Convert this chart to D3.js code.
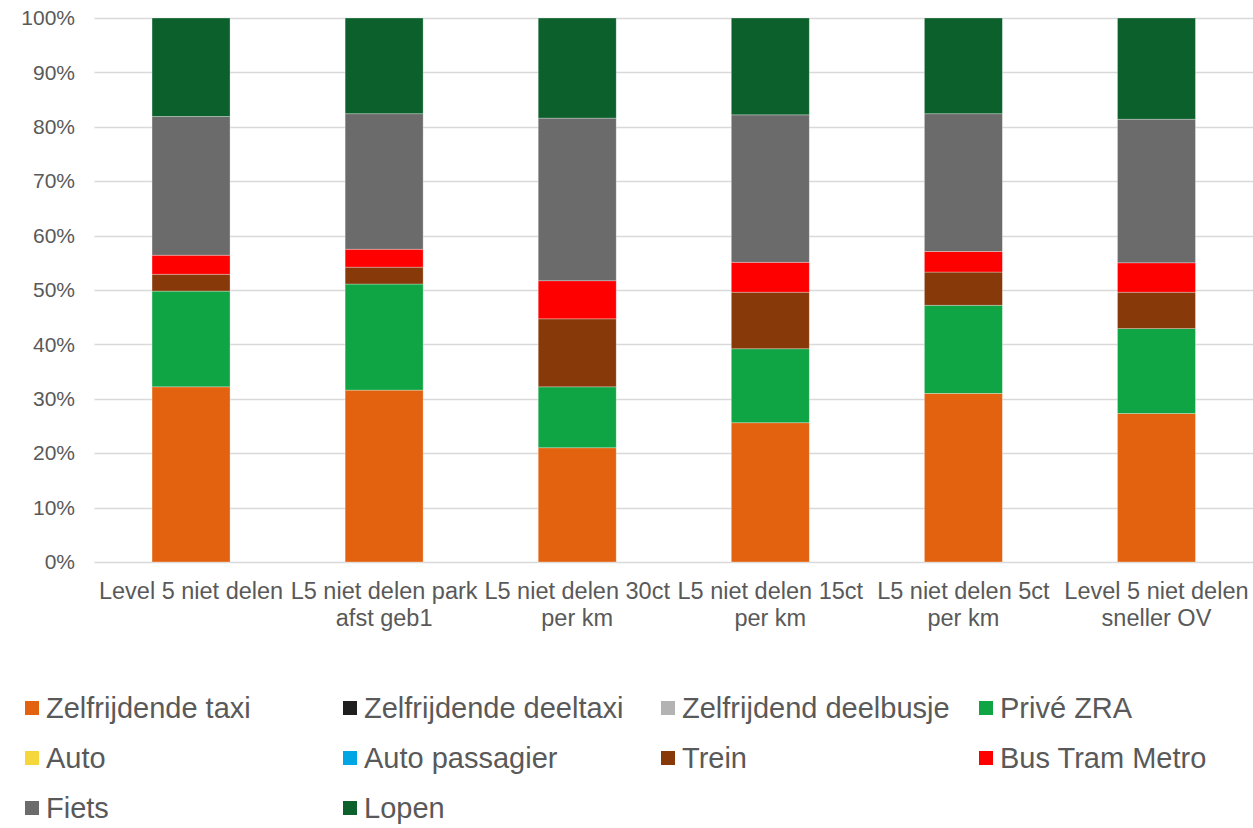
<!DOCTYPE html>
<html>
<head>
<meta charset="utf-8">
<script src="https://cdn.jsdelivr.net/npm/d3@7"></script>
<style>
  body { margin: 0; background: #fff; }
  svg text { font-family: "Liberation Sans", Arial, sans-serif; fill: #595959; }
</style>
</head>
<body>
<div id="chart"></div>
<script>
const categories = [
  ['Level 5 niet delen'],
  ['L5 niet delen park', 'afst geb1'],
  ['L5 niet delen 30ct', 'per km'],
  ['L5 niet delen 15ct', 'per km'],
  ['L5 niet delen 5ct', 'per km'],
  ['Level 5 niet delen', 'sneller OV']
];

const seriesNames = ['Zelfrijdende taxi', 'Zelfrijdende deeltaxi', 'Zelfrijdend deelbusje', 'Privé ZRA',
  'Auto', 'Auto passagier', 'Trein', 'Bus Tram Metro', 'Fiets', 'Lopen'];
const seriesColors = ['#e36210', '#1f1f1f', '#b3b3b3', '#10a544',
  '#f5d73c', '#00a6e3', '#87390a', '#ff0000', '#6b6b6b', '#0b602c'];

// shares in %, one value per category
const zelfrijdendeTaxi = [32.2, 31.6, 21.0, 25.6, 31.0, 27.3];
const zelfrijdendeDeeltaxi = [0, 0, 0, 0, 0, 0];
const zelfrijdendDeelbusje = [0, 0, 0, 0, 0, 0];
const priveZRA = [17.6, 19.5, 11.2, 13.6, 16.2, 15.6];
const auto = [0, 0, 0, 0, 0, 0];
const autoPassagier = [0, 0, 0, 0, 0, 0];
const trein = [3.1, 3.1, 12.5, 10.4, 6.1, 6.7];
const busTramMetro = [3.5, 3.3, 7.0, 5.5, 3.8, 5.4];
const fiets = [25.5, 24.9, 29.9, 27.1, 25.3, 26.4];
const lopen = [18.1, 17.6, 18.4, 17.8, 17.6, 18.6];

const yTicks = [0, 10, 20, 30, 40, 50, 60, 70, 80, 90, 100];

const values = [zelfrijdendeTaxi, zelfrijdendeDeeltaxi, zelfrijdendDeelbusje, priveZRA,
  auto, autoPassagier, trein, busTramMetro, fiets, lopen];

const width = 1253, height = 828;
const [mt, mr, ml] = [18, 0, 94.5];
const plotBottom = 562;

// normalise each column to 100%
const rows = categories.map((c, i) => {
  const row = { i };
  const total = d3.sum(values, v => v[i]);
  seriesNames.forEach((s, k) => row[s] = values[k][i] / total);
  return row;
});
const stacked = d3.stack().keys(seriesNames)(rows);

const x = d3.scaleBand()
  .domain(d3.range(categories.length))
  .range([ml, width - mr])
  .paddingInner(0.596)
  .paddingOuter(0.298);

const y = d3.scaleLinear([0, 1], [plotBottom, mt]);

const color = d3.scaleOrdinal(seriesNames, seriesColors);

const svg = d3.select('#chart')
  .append('svg')
  .attr('width', width)
  .attr('height', height);

// grid
svg.append('g')
  .selectAll('line')
  .data(yTicks)
  .join('line')
  .attr('x1', ml)
  .attr('x2', width - mr)
  .attr('y1', d => Math.round(y(d / 100)) + 0.5)
  .attr('y2', d => Math.round(y(d / 100)) + 0.5)
  .attr('stroke', '#d9d9d9')
  .attr('stroke-width', 1.5);

// y axis labels
const yAxis = d3.axisLeft(y)
  .tickValues(yTicks.map(d => d / 100))
  .tickFormat(d3.format('.0%'))
  .tickSize(0)
  .tickPadding(0);

svg.append('g')
  .attr('transform', `translate(75,0)`)
  .call(yAxis)
  .call(g => g.select('.domain').remove())
  .call(g => g.selectAll('text')
    .style('font-size', '21px')
    .attr('fill', '#595959'));

// bars
svg.append('g')
  .selectAll('g')
  .data(stacked)
  .join('g')
  .attr('fill', d => color(d.key))
  .selectAll('rect')
  .data(d => d)
  .join('rect')
  .attr('x', d => x(d.data.i))
  .attr('width', x.bandwidth())
  .attr('y', d => y(d[1]))
  .attr('height', d => y(d[0]) - y(d[1]))
  .attr('stroke', '#fff')
  .attr('stroke-opacity', 0.4)
  .attr('stroke-width', 0.75);

// x labels
const xl = svg.append('g')
  .selectAll('text')
  .data(categories)
  .join('text')
  .attr('text-anchor', 'middle')
  .style('font-size', '23.5px')
  .attr('x', (d, i) => x(i) + x.bandwidth() / 2)
  .attr('y', 599);

xl.selectAll('tspan')
  .data(d => d)
  .join('tspan')
  .attr('x', function () { return this.parentNode.getAttribute('x'); })
  .attr('dy', (d, j) => j === 0 ? 0 : 26.5)
  .text(d => d);

// legend
const legendCols = [25, 343, 661, 979];
const legendRows = [718, 768, 818];
const legend = svg.append('g')
  .selectAll('g')
  .data(seriesNames)
  .join('g')
  .attr('transform', (d, i) => `translate(${legendCols[i % 4]},${legendRows[Math.floor(i / 4)]})`);

legend.append('rect')
  .attr('x', 0)
  .attr('y', -17)
  .attr('width', 14)
  .attr('height', 14)
  .attr('fill', d => color(d));

legend.append('text')
  .attr('x', 21)
  .attr('y', 0)
  .style('font-size', '29px')
  .text(d => d);
</script>
</body>
</html>
